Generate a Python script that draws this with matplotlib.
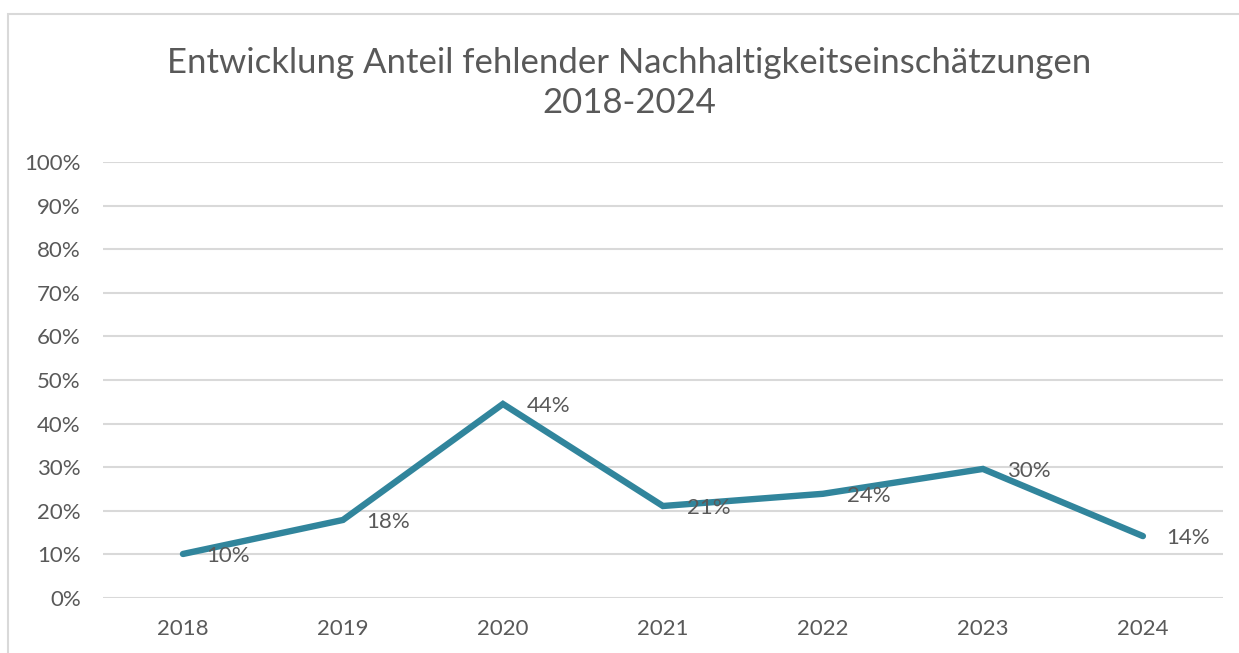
import matplotlib.pyplot as plt
from matplotlib.patches import Rectangle
from matplotlib.ticker import PercentFormatter

years = ["2018", "2019", "2020", "2021", "2022", "2023", "2024"]
anteil = [10.1, 17.9, 44.5, 21.1, 23.9, 29.6, 14.2]
labels = ["10%", "18%", "44%", "21%", "24%", "30%", "14%"]

plt.rcParams["font.family"] = ["Lato", "DejaVu Sans"]
text_col = "#595959"
grid_col = "#D9D9D9"
line_col = "#31859C"

fig = plt.figure(figsize=(12.39, 6.53), dpi=100)
ax = fig.add_axes([0.0831, 0.0842, 0.9039, 0.6678])

# Rahmen um das Diagramm (wie in Excel)
fig.patches.append(Rectangle((8 / 1239, -0.1), 1.2, 1 - 14 / 653 + 0.1,
                             transform=fig.transFigure, fill=False,
                             edgecolor=grid_col, linewidth=1.5))

x = range(len(years))
ax.plot(x, anteil, color=line_col, linewidth=4.6, solid_capstyle="round",
        solid_joinstyle="miter", zorder=3)
for xi, yi, lab in zip(x, anteil, labels):
    ax.annotate(lab, (xi, yi), xytext=(17, -1.5), textcoords="offset points",
                ha="left", va="center", fontsize=16, color=text_col, zorder=4)

ax.set_xlim(-0.5, len(years) - 0.5)
ax.set_ylim(0, 100)
ax.set_yticks(range(0, 101, 10))
ax.yaxis.set_major_formatter(PercentFormatter(decimals=0))
ax.set_xticks(list(x))
ax.set_xticklabels(years)
ax.grid(axis="y", color=grid_col, linewidth=1.5)
ax.set_axisbelow(True)
for s in ax.spines.values():
    s.set_visible(False)
ax.tick_params(length=0, labelsize=16, labelcolor=text_col)
ax.tick_params(axis="y", pad=16)
ax.tick_params(axis="x", pad=15)

fig.text(0.508, 0.873, "Entwicklung Anteil fehlender Nachhaltigkeitseinschätzungen\n2018-2024",
         ha="center", va="center", fontsize=25, color=text_col, linespacing=1.3)

fig.savefig("out.png", dpi=100)
